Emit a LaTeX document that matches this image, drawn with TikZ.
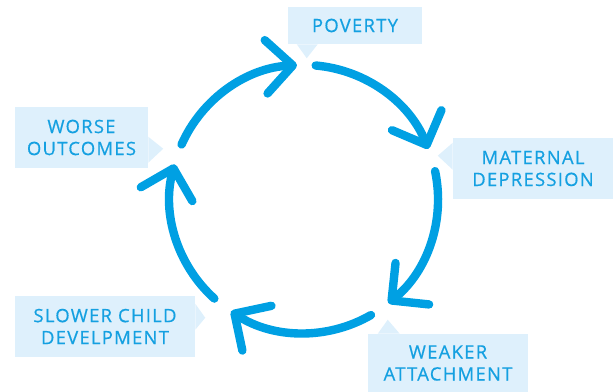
\documentclass[tikz,border=0pt]{standalone}
\usepackage{fontspec}
\setmainfont[LetterSpace=7,FakeBold=0.6]{Open Sans}
\usetikzlibrary{arrows.meta,calc}

\definecolor{cyclecol}{RGB}{0,160,227}
\definecolor{labelfill}{RGB}{222,240,252}
\definecolor{labeltext}{RGB}{20,160,225}

\tikzset{
  stage/.style={fill=labelfill, text=labeltext, align=center, inner sep=0pt,
    font=\fontsize{13.8}{16.5}\selectfont},
  pointer/.style={fill=labelfill},
  cyc/.style={draw=cyclecol, line width=6.3pt, line cap=round,
    -{Straight Barb[length=20pt,width=40pt,round]}},
}

\begin{document}
\begin{tikzpicture}[x=0.75pt,y=0.75pt]
\useasboundingbox (0,0) rectangle (613,392);

\node[stage, minimum width=100.5pt, minimum height=27.75pt] (poverty) at (355,366.5) {POVERTY};
\node[stage, minimum width=120pt, minimum height=45.75pt] (depression) at (533,223.5) {MATERNAL\\DEPRESSION};
\node[stage, minimum width=120pt, minimum height=43.5pt] (attachment) at (448,29) {WEAKER\\ATTACHMENT};
\node[stage, minimum width=135pt, minimum height=45.75pt] (slower) at (105,65.5) {SLOWER CHILD\\DEVELPMENT};
\node[stage, minimum width=99.75pt, minimum height=45.75pt] (worse) at (81.5,254.5) {WORSE\\OUTCOMES};

% little pointers on the boxes
\fill[pointer] ($(poverty.south west)+(9,0)$) -- ($(poverty.south west)+(19,-14)$) -- ($(poverty.south west)+(30,0)$) -- cycle;
\fill[pointer] ($(depression.north west)+(0,-5)$) -- ($(depression.north west)+(-15,-18)$) -- ($(depression.north west)+(0,-32)$) -- cycle;
\fill[pointer] ($(attachment.north west)+(10,0)$) -- ($(attachment.north west)+(20,14)$) -- ($(attachment.north west)+(32,0)$) -- cycle;
\fill[pointer] ($(slower.north east)+(0,-8)$) -- ($(slower.north east)+(10,-22)$) -- ($(slower.north east)+(0,-34)$) -- cycle;
\fill[pointer] ($(worse.north east)+(0,-30)$) -- ($(worse.north east)+(15,-42)$) -- ($(worse.north east)+(0,-56)$) -- cycle;

% the cycle
\coordinate (hub) at (304,193);
\foreach \s in {156,85,12,-60,-132}
  \draw[cyc] ($(hub)+(\s:134)$) arc[start angle=\s, end angle=\s-63, radius=134];

\end{tikzpicture}
\end{document}
